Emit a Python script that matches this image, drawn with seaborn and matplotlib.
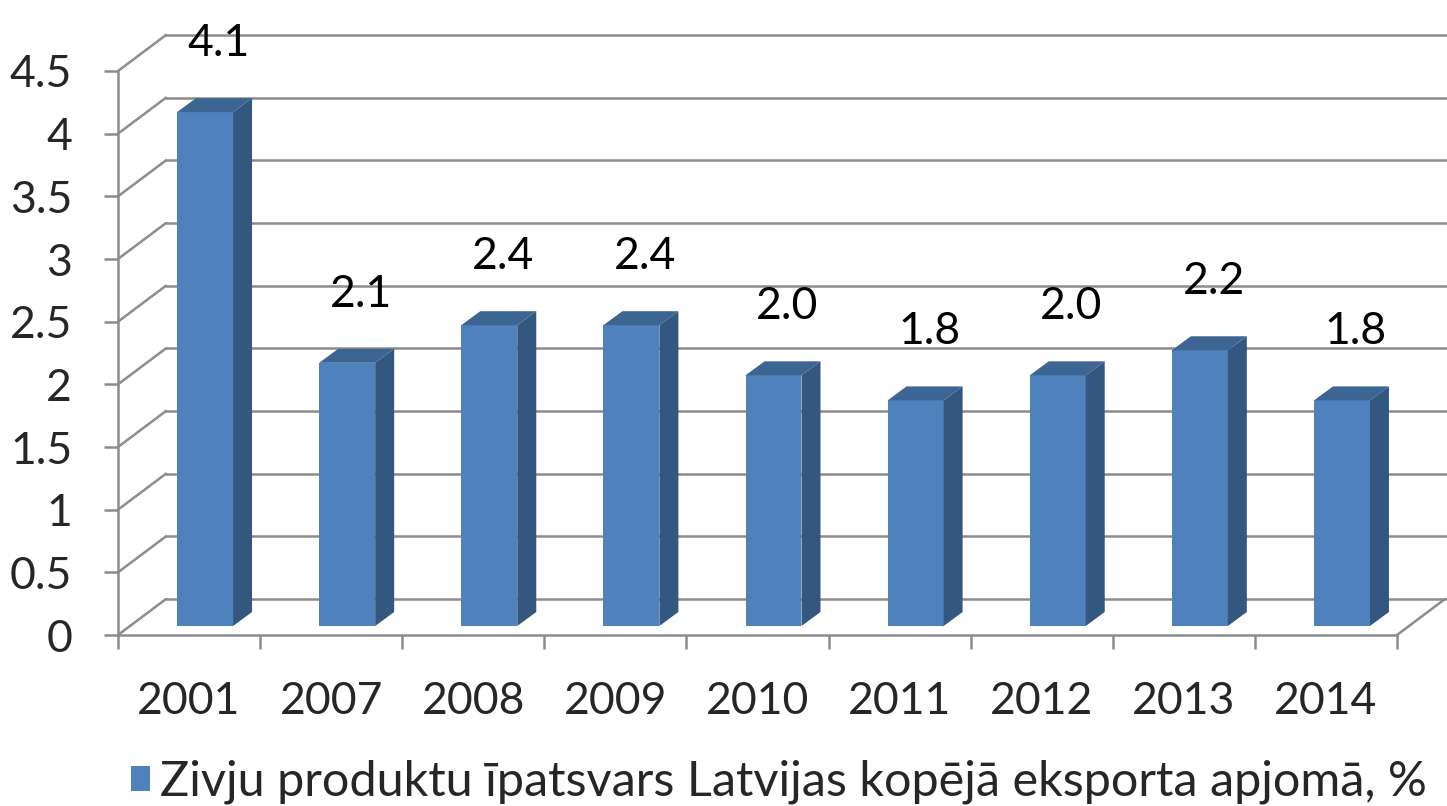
import matplotlib
matplotlib.use("Agg")
import matplotlib.pyplot as plt
from matplotlib.patches import Polygon, Patch
import seaborn as sns
import pandas as pd
import numpy as np

# dati
years = ["2001", "2007", "2008", "2009", "2010", "2011", "2012", "2013", "2014"]
share = [4.1, 2.1, 2.4, 2.4, 2.0, 1.8, 2.0, 2.2, 1.8]
series_name = "Zivju produktu īpatsvars Latvijas kopējā eksporta apjomā, %"
y_ticks = [0, 0.5, 1, 1.5, 2, 2.5, 3, 3.5, 4, 4.5]

FRONT = "#4F81BD"
SIDE = "#34577F"
TOP = "#3D6593"
GRID = "#8C8C8C"
FS = 32

sns.set_style("white")
plt.rcParams["font.family"] = ["Lato", "DejaVu Sans"]

W, H = 1447, 806
fig = plt.figure(figsize=(W / 100, H / 100), dpi=100)
ax = fig.add_axes([118 / W, 171 / H, 1279 / W, 564 / H])

df = pd.DataFrame({"year": years, "share": share})
sns.barplot(data=df, x="year", y="share", color=FRONT, saturation=1,
            width=0.394, ax=ax, zorder=3, linewidth=0)

ax.set_xlim(-0.5, len(years) - 0.5)
ax.set_ylim(0, 4.5)

# pseudo 3D parametri (datu vienibas)
px_x = 1279 / len(years)      # px uz kategoriju
px_y = 564 / 4.5              # px uz vienibu
DX, DY = 48 / px_x, 36 / px_y          # sienas dzilums
BX, BY = 16 / px_x, 9 / px_y           # stabina priekseja plakne
SX, SY = 19 / px_x, 14 / px_y          # stabina dzilums

# aizmugures siena un kreisa siena
for v in y_ticks:
    ax.plot([-0.5 + DX, 9.2], [v + DY, v + DY], color=GRID, lw=1.8,
            clip_on=False, zorder=1)
    ax.plot([-0.5, -0.5 + DX], [v, v + DY], color=GRID, lw=1.8,
            clip_on=False, zorder=1)
# gridas labais sturis
ax.plot([len(years) - 0.5, len(years) - 0.5 + DX], [0, DY], color=GRID,
        lw=1.8, clip_on=False, zorder=1)

# stabini 3D
for p, v in zip(ax.patches, share):
    p.set_x(p.get_x() + BX)
    p.set_y(BY)
    x0, w = p.get_x(), p.get_width()
    x1 = x0 + w
    y0, y1 = BY, BY + p.get_height()
    ax.add_patch(Polygon([(x1, y0), (x1 + SX, y0 + SY), (x1 + SX, y1 + SY), (x1, y1)],
                         closed=True, facecolor=SIDE, edgecolor="none", zorder=3))
    ax.add_patch(Polygon([(x0, y1), (x0 + SX, y1 + SY), (x1 + SX, y1 + SY), (x1, y1)],
                         closed=True, facecolor=TOP, edgecolor="none", zorder=3))
    ax.text(x0 + w / 2 + SX / 2 + 0.03, v + 0.62, f"{v:.1f}", ha="center", va="center",
            fontsize=FS, color="black", zorder=5, clip_on=False)

# asis
sns.despine(ax=ax, top=True, right=True)
for s in ["left", "bottom"]:
    ax.spines[s].set_color(GRID)
    ax.spines[s].set_linewidth(1.8)
ax.set_yticks(y_ticks)
ax.set_yticklabels([f"{t:g}" for t in y_ticks])
ax.set_xticks(range(len(years)))
ax.set_xticklabels(years)
ax.set_xticks(np.arange(-0.5, len(years)), minor=True)
ax.tick_params(axis="y", which="major", direction="out", length=10, width=1.8,
               color=GRID, pad=23, labelsize=FS, left=True)
ax.tick_params(axis="x", which="major", length=0, pad=33, labelsize=FS)
ax.tick_params(axis="x", which="minor", direction="out", length=10, width=1.8,
               color=GRID, bottom=True)
ax.set_xlabel("")
ax.set_ylabel("")
ax.grid(False)

fig.legend(handles=[Patch(facecolor=FRONT, edgecolor="none")], labels=[series_name],
           loc="center left", bbox_to_anchor=(131 / W, 24 / H), frameon=False,
           fontsize=35, handlelength=0.4, handleheight=0.4, handletextpad=0.2,
           borderpad=0, borderaxespad=0)

fig.savefig("out.png", dpi=100)
